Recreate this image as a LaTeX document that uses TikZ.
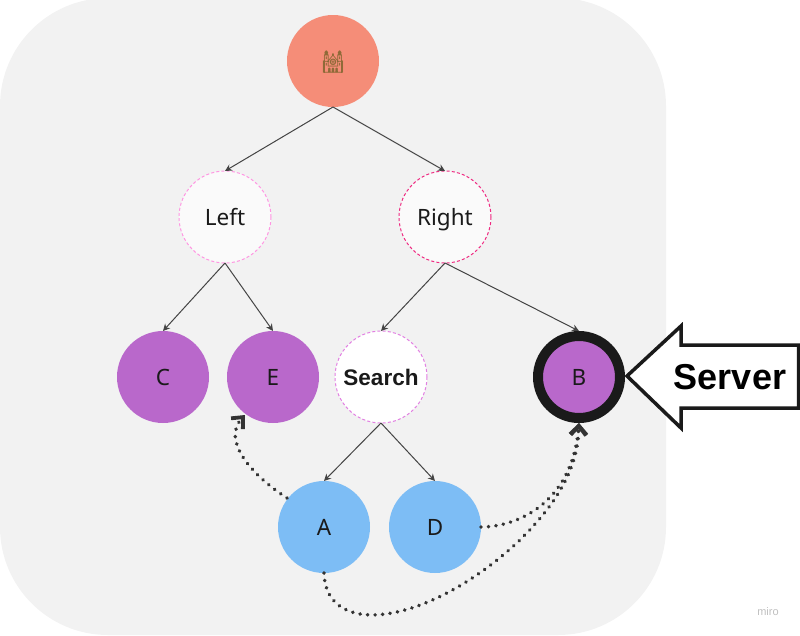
\documentclass[tikz,border=0pt]{standalone}
\usepackage{fontspec}
\setmainfont{Noto Sans}
\newfontfamily\emojifont{Noto Emoji}
\newfontfamily\labelfont{Liberation Sans}
\usetikzlibrary{arrows.meta}
\definecolor{panel}{HTML}{F2F2F2}
\definecolor{rootc}{HTML}{F58D78}
\definecolor{purp}{HTML}{B968CB}
\definecolor{bluec}{HTML}{7DBDF5}
\definecolor{ink}{HTML}{1A1A1A}
\definecolor{edgec}{HTML}{444444}
\definecolor{dotc}{HTML}{333333}
\tikzset{
  x=1pt,y=-1pt,
  every node/.style={font=\fontsize{22.5}{26}\selectfont,text=ink,inner sep=0pt,text height=17pt,text depth=0pt},
  disc/.style={circle,minimum size=92pt,outer sep=0pt},
  leafp/.style={disc,fill=purp},
  leafb/.style={disc,fill=bluec},
  dashleft/.style={circle,minimum size=92pt,outer sep=0pt,fill=white!60!panel,draw=#1,line width=1pt,dash pattern=on 3pt off 2.2pt},
  edge/.style={draw=edgec,line width=1pt,-{Stealth[length=7pt,width=7pt]}},
  dotedge/.style={draw=dotc,line width=3.9pt,line cap=round,dash pattern=on 0.01pt off 7.5pt,-{Straight Barb[length=9pt,width=16pt,line width=3.8pt]}}
}
\begin{document}
\begin{tikzpicture}
\useasboundingbox (0,0) rectangle (800,635);
\fill[panel,rounded corners=108pt] (0,-2) rectangle (666,635);
\node[disc,fill=rootc] (root) at (333,61) {};
\node[text height=,text depth=] (church) at (333,62) {\emojifont\fontsize{22}{24}\selectfont\textcolor[HTML]{8F6A38}{🕍}};
\node[dashleft=pink!60!magenta!75] (left) at (225,217) {Left};
\node[dashleft=magenta!75!red!85] (right) at (445,217) {Right};
\node[leafp] (c) at (163,377) {C};
\node[leafp] (e) at (273,377) {E};
\node[dashleft=violet!45!magenta!50,fill=white,font=\labelfont\bfseries\fontsize{22.5}{26}\selectfont] (search) at (381,377) {Search};
\node[circle,minimum size=82pt,fill=purp,draw=ink,line width=10pt,outer sep=5pt] (b) at (579,377) {B};
\node[leafb] (a) at (324,527) {A};
\node[leafb] (d) at (435,527) {D};
\draw[edge] (root.south) -- (left.north);
\draw[edge] (root.south) -- (right.north);
\draw[edge] (left.south) -- (c.north);
\draw[edge] (left.south) -- (e.north);
\draw[edge] (right.south) -- (search.north);
\draw[edge] (right.south) -- (b.north);
\draw[edge] (search.south) -- (a.north);
\draw[edge] (search.south) -- (d.north);
\coordinate (etip) at (245,415);
\coordinate (astart) at (287,498);
\draw[dotedge] (astart) .. controls (250,474) and (222,440) .. (etip);
\draw[dotedge] (a.south) .. controls (326,640) and (430,625) .. (520,540) .. controls (555,505) and (578,470) .. (b.south);
\draw[dotedge] (d.east) .. controls (515,527) and (572,505) .. (b.south);
\filldraw[fill=white,draw=ink,line width=3.5pt,miter limit=10]
  (627,376) -- (681,326) -- (681,345) -- (798.5,345) -- (798.5,408) -- (681,408) -- (681,428) -- cycle;
\node[font=\labelfont\bfseries\fontsize{36}{40}\selectfont,text=black,text height=,text depth=] (server) at (730,377) {Server};
\node[font=\labelfont\fontsize{11}{13}\selectfont,text=black!25,text height=,text depth=] (miro) at (768,612) {miro};
\end{tikzpicture}
\end{document}
